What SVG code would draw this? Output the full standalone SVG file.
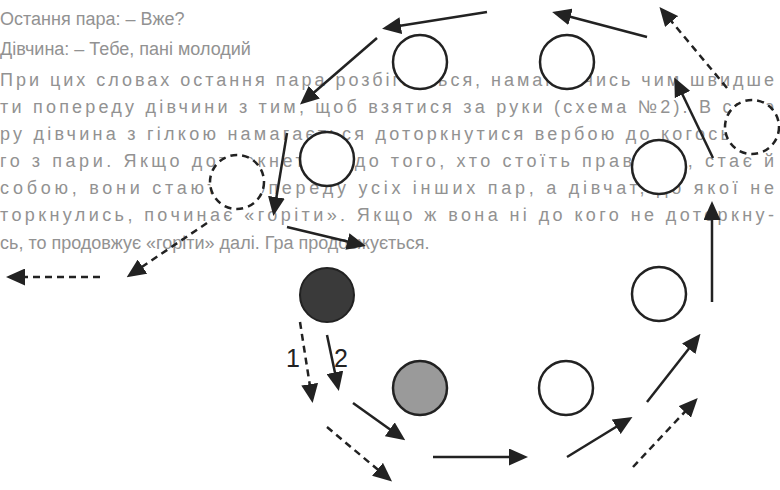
<svg xmlns="http://www.w3.org/2000/svg" width="780" height="490" viewBox="0 0 780 490">
<style>
.bg{font-family:"Liberation Sans",Arial,sans-serif;font-size:18px;fill:#929292}
.c{fill:#fff;stroke:#222;stroke-width:2.5}
.cd{fill:#fff;stroke:#222;stroke-width:2.5;stroke-dasharray:7 5}
.a{stroke:#222;stroke-width:2.5;fill:none;marker-end:url(#ah)}
.ad{stroke:#222;stroke-width:2.5;fill:none;stroke-dasharray:7 5;marker-end:url(#ah)}
.lbl{font-family:"Liberation Sans",Arial,sans-serif;font-size:25px;fill:#222}
</style>
<defs>
<marker id="ah" markerUnits="userSpaceOnUse" markerWidth="19" markerHeight="17" viewBox="0 0 19 17" refX="15" refY="8.5" orient="auto">
<path d="M0,0 L19,8.5 L0,17 z" fill="#222"/>
</marker>
</defs>
<rect width="780" height="490" fill="#fff"/>
<g id="page-text">
<text class="bg" x="0" y="25">Остання пара: – Вже?</text>
<text class="bg" x="0" y="55">Дівчина: – Тебе, пані молодий</text>
<text class="bg" x="0" y="86" textLength="774" lengthAdjust="spacing">При цих словах остання пара розбігається, намагаючись чим швидше</text>
<text class="bg" x="0" y="113" textLength="774" lengthAdjust="spacing">ти попереду дівчини з тим, щоб взятися за руки (схема №2). В свою</text>
<text class="bg" x="0" y="140" textLength="774" lengthAdjust="spacing">ру дівчина з гілкою намагається доторкнутися вербою до когось од-</text>
<text class="bg" x="0" y="167" textLength="774" lengthAdjust="spacing">го з пари. Якщо доторкнеться до того, хто стоїть праворуч, стає й</text>
<text class="bg" x="0" y="194" textLength="774" lengthAdjust="spacing">собою, вони стають попереду усіх інших пар, а дівчат, до якої не</text>
<text class="bg" x="0" y="221" textLength="774" lengthAdjust="spacing">торкнулись, починає «горіти». Якщо ж вона ні до кого не доторкну-</text>
<text class="bg" x="0" y="249">сь, то продовжує «горіти» далі. Гра продовжується.</text>
</g>
<g id="connectors">
<line class="a" x1="487" y1="12" x2="386" y2="28"/>
<line class="a" x1="647" y1="37" x2="556" y2="13"/>
<line class="ad" x1="727" y1="88" x2="662" y2="10"/>
<line class="a" x1="713" y1="158" x2="676" y2="81"/>
<line class="a" x1="377" y1="38" x2="303" y2="102"/>
<line class="a" x1="287" y1="133" x2="274" y2="212"/>
<line class="a" x1="287" y1="227" x2="362" y2="245"/>
<line class="ad" x1="207" y1="223" x2="130" y2="275"/>
<line class="ad" x1="100" y1="277" x2="10" y2="277"/>
<line class="a" x1="712" y1="302" x2="712" y2="205"/>
<line class="a" x1="647" y1="402" x2="698" y2="337"/>
<line class="ad" x1="300" y1="322" x2="312" y2="399"/>
<line class="a" x1="327" y1="335" x2="338" y2="387"/>
<line class="a" x1="353" y1="403" x2="402" y2="438"/>
<line class="ad" x1="327" y1="427" x2="389" y2="479"/>
<line class="a" x1="433" y1="457" x2="524" y2="457"/>
<line class="a" x1="567" y1="457" x2="629" y2="419"/>
<line class="ad" x1="633" y1="467" x2="695" y2="401"/>
</g>
<g id="n1"><circle class="c" cx="420" cy="62" r="27"/></g>
<g id="n2"><circle class="c" cx="567" cy="62" r="27"/></g>
<g id="n3"><circle class="cd" cx="752" cy="127" r="27"/></g>
<g id="n4"><circle class="c" cx="327" cy="159" r="27"/></g>
<g id="n5"><circle class="cd" cx="237" cy="182" r="27"/></g>
<g id="n6"><circle class="c" cx="659" cy="167" r="27"/></g>
<g id="n7"><circle cx="327" cy="295" r="27" fill="#3a3a3a" stroke="#222" stroke-width="2"/></g>
<g id="n8"><circle class="c" cx="659" cy="294" r="27"/></g>
<g id="n9"><circle cx="420" cy="388" r="27" fill="#9a9a9a" stroke="#222" stroke-width="2.5"/></g>
<g id="n10"><circle class="c" cx="566" cy="388" r="27"/></g>
<g id="labels">
<text class="lbl" x="286" y="367">1</text>
<text class="lbl" x="334" y="367">2</text>
</g>
</svg>
